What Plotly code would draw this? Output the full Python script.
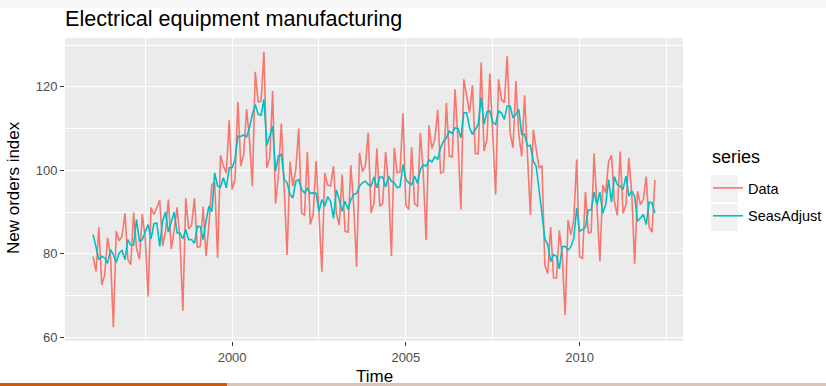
import numpy as np
import plotly.graph_objects as go

# Monthly new orders index for electrical equipment, Jan 1996 - Mar 2012
start_year = 1996
data_values = [
    79.35, 75.78, 86.32, 72.60, 74.86, 83.81, 79.80, 62.41, 85.41, 83.11, 84.21, 89.70,
    78.64, 77.42, 89.86, 81.27, 78.68, 89.51, 83.67, 69.80, 91.09, 89.43, 91.04, 92.87,
    81.87, 85.36, 92.98, 81.09, 85.64, 91.14, 83.46, 66.37, 93.34, 85.93, 86.81, 93.30,
    81.59, 81.77, 91.24, 79.45, 86.99, 96.60, 97.00, 79.00, 103.60, 101.00, 99.40, 112.00,
    95.40, 97.80, 116.40, 101.00, 103.80, 114.60, 107.40, 96.20, 123.60, 116.40, 116.60, 128.40,
    100.60, 103.00, 119.00, 92.00, 99.00, 111.20, 95.50, 79.70, 102.10, 96.20, 100.20, 110.00,
    89.70, 89.30, 104.40, 87.00, 89.40, 102.20, 89.80, 75.70, 99.40, 96.50, 96.20, 101.00,
    89.70, 86.90, 99.00, 85.40, 85.20, 101.20, 91.40, 76.90, 104.20, 99.70, 101.00, 109.00,
    89.80, 92.20, 105.20, 91.40, 92.10, 104.40, 97.00, 79.50, 105.40, 99.40, 99.60, 113.70,
    91.70, 90.60, 105.60, 92.10, 91.30, 109.00, 99.50, 83.30, 110.80, 105.20, 107.40, 114.50,
    99.30, 99.70, 116.20, 103.40, 103.20, 119.40, 107.00, 90.60, 121.80, 117.40, 113.80, 120.40,
    104.00, 104.00, 125.80, 104.60, 107.40, 123.20, 109.50, 94.20, 121.80, 117.00, 116.20, 127.30,
    109.00, 105.40, 121.40, 108.60, 103.30, 118.00, 103.50, 89.30, 109.70, 105.00, 100.50, 101.20,
    77.20, 75.30, 86.40, 74.20, 74.20, 85.60, 79.50, 65.30, 88.10, 84.60, 88.20, 102.60,
    79.30, 78.90, 94.80, 85.00, 85.20, 104.10, 91.40, 78.20, 96.50, 94.60, 102.00, 103.60,
    92.60, 89.20, 104.50, 89.70, 91.80, 103.00, 94.60, 77.60, 95.00, 91.80, 93.00, 98.50,
    86.40, 85.20, 97.70,
]

# Seasonally adjusted series
seasadj_values = [
    84.60, 81.80, 78.60, 79.40, 79.00, 77.70, 81.00, 79.80, 77.90, 80.20, 80.80, 78.60,
    83.40, 82.10, 82.10, 88.20, 83.00, 83.40, 85.00, 87.00, 83.60, 87.20, 87.40, 81.80,
    87.80, 90.00, 85.20, 87.80, 90.00, 85.00, 85.00, 83.60, 85.80, 83.40, 83.40, 82.50,
    86.60, 86.50, 83.40, 87.80, 91.40, 90.10, 99.40, 96.20, 96.00, 98.20, 95.80, 100.60,
    100.60, 102.60, 108.20, 108.10, 108.50, 108.00, 110.20, 113.40, 115.80, 113.40, 113.20, 117.00,
    106.00, 108.20, 110.60, 99.80, 103.40, 103.80, 97.80, 97.00, 94.20, 93.40, 97.40, 97.80,
    95.40, 94.60, 95.70, 94.50, 94.60, 94.50, 90.20, 93.00, 91.40, 93.70, 92.60, 88.50,
    95.30, 93.00, 90.20, 92.60, 90.60, 93.00, 94.20, 94.50, 96.20, 97.00, 97.40, 96.60,
    96.20, 98.40, 95.80, 98.40, 98.40, 96.00, 98.60, 97.40, 97.00, 95.80, 96.10, 101.40,
    97.80, 97.00, 96.60, 98.60, 96.90, 100.20, 101.40, 101.00, 102.50, 102.00, 103.30, 102.60,
    105.40, 107.00, 107.80, 109.40, 108.80, 110.20, 110.00, 107.80, 113.80, 113.80, 110.20, 108.60,
    110.00, 111.00, 117.40, 111.00, 114.00, 114.20, 111.50, 111.00, 114.20, 113.80, 112.20, 115.40,
    115.40, 112.60, 113.40, 114.60, 108.60, 108.60, 105.80, 106.00, 102.20, 101.00, 95.40, 89.00,
    83.60, 82.20, 78.20, 79.80, 79.40, 76.40, 81.70, 81.80, 80.90, 81.70, 83.80, 91.00,
    85.40, 85.80, 86.40, 90.50, 90.50, 94.80, 91.80, 94.80, 89.70, 91.80, 97.80, 92.40,
    98.50, 96.60, 96.20, 95.40, 98.60, 93.80, 95.00, 93.80, 87.80, 88.60, 89.40, 87.00,
    92.40, 92.20, 89.80,
]

series_names = ["Data", "SeasAdjust"]
series_colors = ["#F8766D", "#00BFC4"]
x_ticks = [2000, 2005, 2010]
x_minor = [1997.5, 2002.5, 2007.5, 2012.5]
y_ticks = [60, 80, 100, 120]
y_minor = [70, 90, 110, 130]

time = start_year + np.arange(len(data_values)) / 12.0

# ggplot-style 5% expansion of the data ranges
def expand(lo, hi, frac=0.05):
    pad = (hi - lo) * frac
    return [lo - pad, hi + pad]

all_y = data_values + seasadj_values
x_range = expand(time.min(), time.max())
y_range = expand(min(all_y), max(all_y))

# panel geometry (pixels)
W, H = 826, 386
L, R, T, B = 65, 683, 38, 341
pw, ph = R - L, B - T

def px_x(p):
    return (p - L) / pw

def px_y(p):
    return (B - p) / ph

FONT = "Liberation Sans, Arial, sans-serif"

fig = go.Figure()
for name, vals, col in zip(series_names, [data_values, seasadj_values], series_colors):
    fig.add_trace(go.Scatter(
        x=time, y=vals, mode="lines", name=name, legendgroup=name,
        line=dict(color=col, width=1.6),
    ))

axis_common = dict(
    showline=False, zeroline=False, showgrid=True,
    gridcolor="white", gridwidth=1.2,
    ticks="outside", ticklen=4, tickwidth=1, tickcolor="#333333",
    tickfont=dict(family=FONT, size=13, color="#4D4D4D"),
)

fig.update_xaxes(
    range=x_range, tickvals=x_ticks, ticktext=[str(v) for v in x_ticks],
    minor=dict(tickvals=x_minor, showgrid=True, gridcolor="white", gridwidth=0.6, ticks=""),
    **axis_common,
)
fig.update_yaxes(
    range=y_range, tickvals=y_ticks, ticktext=[str(v) for v in y_ticks],
    minor=dict(tickvals=y_minor, showgrid=True, gridcolor="white", gridwidth=0.6, ticks=""),
    **axis_common,
)

shapes = [
    # thin light strip along the top edge
    dict(type="rect", xref="paper", yref="paper", x0=px_x(0), x1=px_x(W),
         y0=px_y(8), y1=px_y(0), fillcolor="#F7F7F7", line=dict(width=0), layer="below"),
    # progress bar along the bottom edge
    dict(type="rect", xref="paper", yref="paper", x0=px_x(0), x1=px_x(227),
         y0=px_y(386), y1=px_y(383), fillcolor="#CC5A0A", line=dict(width=0)),
    dict(type="rect", xref="paper", yref="paper", x0=px_x(227), x1=px_x(W),
         y0=px_y(386), y1=px_y(383), fillcolor="#D8C5B8", line=dict(width=0)),
    # legend key backgrounds
    dict(type="rect", xref="paper", yref="paper", x0=px_x(711), x1=px_x(738),
         y0=px_y(202), y1=px_y(175), fillcolor="#F2F2F2", line=dict(width=0), layer="below"),
    dict(type="rect", xref="paper", yref="paper", x0=px_x(711), x1=px_x(738),
         y0=px_y(231), y1=px_y(204), fillcolor="#F2F2F2", line=dict(width=0), layer="below"),
]

annotations = [
    dict(text="Time", xref="paper", yref="paper", x=0.5, y=px_y(376),
         xanchor="center", yanchor="middle", showarrow=False,
         font=dict(family=FONT, size=17, color="black")),
    dict(text="New orders index", xref="paper", yref="paper", x=px_x(13), y=px_y(188),
         xanchor="center", yanchor="middle", textangle=-90, showarrow=False,
         font=dict(family=FONT, size=17, color="black")),
    dict(text="series", xref="paper", yref="paper", x=px_x(710), y=px_y(157),
         xanchor="left", yanchor="middle", showarrow=False,
         font=dict(family=FONT, size=18, color="black")),
]

fig.update_layout(
    width=W, height=H,
    margin=dict(l=L, r=W - R, t=T, b=H - B, pad=0),
    paper_bgcolor="white", plot_bgcolor="#EBEBEB",
    title=dict(text="Electrical equipment manufacturing", xref="container", yref="container",
               x=65 / W, y=1 - 18.5 / H, xanchor="left", yanchor="middle",
               font=dict(family=FONT, size=21.6, color="black")),
    legend=dict(
        font=dict(family=FONT, size=14.5, color="black"),
        xref="container", yref="container", x=708 / W, y=1 - 172 / H,
        xanchor="left", yanchor="top", bgcolor="rgba(0,0,0,0)",
        itemwidth=30, tracegroupgap=6,
    ),
    shapes=shapes, annotations=annotations,
)

fig.write_html("out.html")
